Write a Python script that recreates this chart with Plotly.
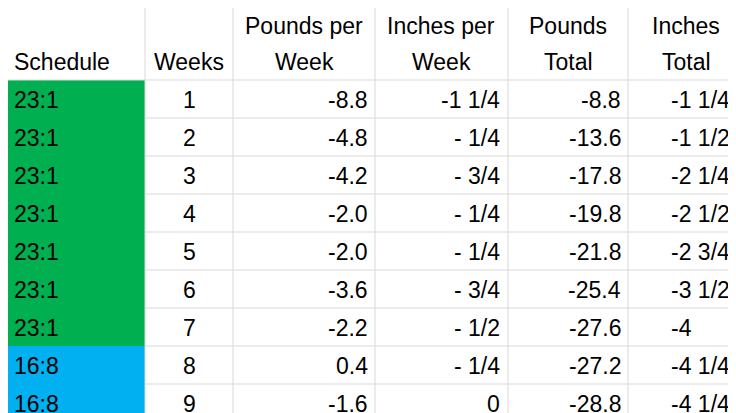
import plotly.graph_objects as go

headers = [("", "Schedule"), ("", "Weeks"), ("Pounds per", "Week"), ("Inches per", "Week"),
           ("Pounds", "Total"), ("Inches", "Total")]
schedule = ["23:1"] * 7 + ["16:8"] * 2
weeks = ["1", "2", "3", "4", "5", "6", "7", "8", "9"]
lbs_week = ["-8.8", "-4.8", "-4.2", "-2.0", "-2.0", "-3.6", "-2.2", "0.4", "-1.6"]
in_week = ["-1 1/4", "- 1/4", "- 3/4", "- 1/4", "- 1/4", "- 3/4", "- 1/2", "- 1/4", "0"]
lbs_total = ["-8.8", "-13.6", "-17.8", "-19.8", "-21.8", "-25.4", "-27.6", "-27.2", "-28.8"]
in_total = ["-1 1/4", "-1 1/2", "-2 1/4", "-2 1/2", "-2 3/4", "-3 1/2", "-4", "-4 1/4", "-4 1/4"]

# layout in pixels
col_edges = [0, 137, 225, 367, 500, 620, 736]
head_h, row_h = 72, 38
# (x anchor position, xanchor) per column for data cells
cell_pos = [(4, "left"), (181, "center"), (362, "right"), (494, "right"), (615, "right"), (661, "left")]
head_pos = [(4, "left"), (181, "center"), (296, "center"), (433, "center"), (560, "center"), (678, "center")]
font = dict(family="Liberation Sans, Arial", size=23, color="black")
grid = "#D9D9D9"

fig = go.Figure()
shapes, annos = [], []
n = len(weeks)
y_bottom = head_h + n * row_h

# coloured schedule cells
for i, s in enumerate(schedule):
    c = "#00B050" if s == "23:1" else "#00B0F0"
    shapes.append(dict(type="rect", x0=0, x1=col_edges[1], y0=head_h + i * row_h, y1=head_h + (i + 1) * row_h,
                       fillcolor=c, line_width=0, layer="below"))
# grid lines
for x in col_edges[1:-1]:
    shapes.append(dict(type="line", x0=x, x1=x, y0=0, y1=y_bottom, line=dict(color=grid, width=1)))
for i in range(n):
    y = head_h + i * row_h
    shapes.append(dict(type="line", x0=col_edges[1], x1=736, y0=y, y1=y, line=dict(color=grid, width=1)))
shapes.append(dict(type="line", x0=0, x1=col_edges[1], y0=head_h, y1=head_h, line=dict(color=grid, width=1)))

for (x, xa), (l1, l2) in zip(head_pos, headers):
    annos.append(dict(x=x, y=18, text=l1, xanchor=xa, showarrow=False, font=font))
    annos.append(dict(x=x, y=54, text=l2, xanchor=xa, showarrow=False, font=font))

cols = [schedule, weeks, lbs_week, in_week, lbs_total, in_total]
for (x, xa), col in zip(cell_pos, cols):
    for i, v in enumerate(col):
        annos.append(dict(x=x, y=head_h + i * row_h + row_h / 2 + 1, text=v, xanchor=xa,
                          showarrow=False, font=font))

fig.update_layout(width=736, height=413, margin=dict(l=0, r=0, t=0, b=0),
                  paper_bgcolor="white", plot_bgcolor="white", shapes=shapes, annotations=annos,
                  xaxis=dict(range=[0, 736], visible=False, fixedrange=True),
                  yaxis=dict(range=[413, 0], visible=False, fixedrange=True))
fig.write_html("out.html")
